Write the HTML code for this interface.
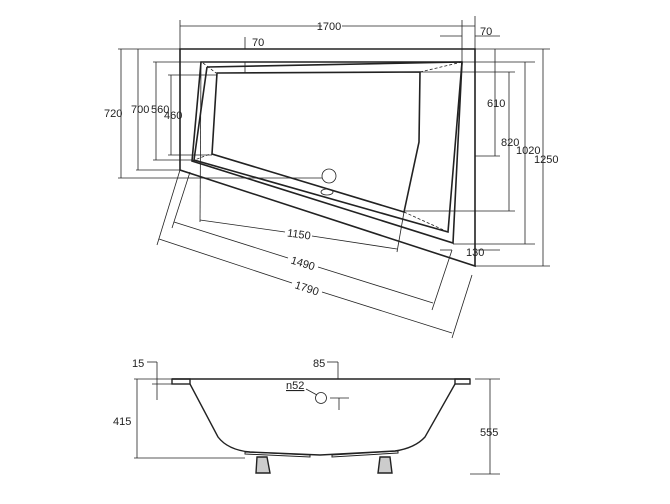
<!DOCTYPE html>
<html><head><meta charset="utf-8"><style>
html,body{margin:0;padding:0;background:#fff;}
svg{display:block;}
text{font-family:"Liberation Sans",sans-serif;font-size:11px;fill:#222;}
</style></head><body>
<svg width="670" height="504" viewBox="0 0 670 504" xmlns="http://www.w3.org/2000/svg">
<g fill="none" stroke="#222" stroke-width="1.6">
<polygon points="180,49 475,49 475,266 180,170"/>
<polygon points="201,62 462,62 453,243 192,161"/>
<polyline points="207,67 462,62"/>
<polyline points="207,67 194,160 448,232 462,62"/>
<polygon points="217,73 420,72 419,142 404,212 212,154"/>
</g>
<g fill="none" stroke="#222" stroke-width="0.8">
<g stroke-dasharray="3,2">
<line x1="420" y1="72" x2="462" y2="62"/>
<line x1="404" y1="212" x2="448" y2="232"/>
<line x1="192" y1="161" x2="210" y2="154"/>
<line x1="203" y1="63" x2="216" y2="73"/>
</g>
<circle cx="329" cy="176" r="7"/>
<ellipse cx="327" cy="192" rx="6" ry="3"/>
<line x1="180" y1="26" x2="322" y2="26"/><line x1="342" y1="26" x2="475" y2="26"/>
<line x1="180" y1="20" x2="180" y2="49"/><line x1="475" y1="16" x2="475" y2="49"/>
<line x1="462" y1="20" x2="462" y2="62"/>
<line x1="440" y1="36" x2="462" y2="36"/><line x1="475" y1="36" x2="500" y2="36"/>
<line x1="245" y1="37" x2="245" y2="49"/><line x1="245" y1="62" x2="245" y2="73"/>
<line x1="121" y1="49" x2="121" y2="178"/>
<line x1="138" y1="49" x2="138" y2="170"/>
<line x1="156" y1="62" x2="156" y2="160"/>
<line x1="171" y1="75" x2="171" y2="155"/>
<line x1="118" y1="49" x2="180" y2="49"/>
<line x1="153" y1="62" x2="201" y2="62"/>
<line x1="168" y1="75" x2="217" y2="75"/>
<line x1="168" y1="155" x2="212" y2="155"/>
<line x1="153" y1="160" x2="192" y2="160"/>
<line x1="136" y1="170" x2="180" y2="170"/>
<line x1="118" y1="178" x2="322" y2="178"/>
<line x1="495" y1="49" x2="495" y2="156"/>
<line x1="509" y1="72" x2="509" y2="211"/>
<line x1="525" y1="62" x2="525" y2="244"/>
<line x1="543" y1="49" x2="543" y2="266"/>
<line x1="475" y1="49" x2="550" y2="49"/>
<line x1="462" y1="62" x2="535" y2="62"/>
<line x1="420" y1="72" x2="515" y2="72"/>
<line x1="475" y1="156" x2="500" y2="156"/>
<line x1="404" y1="211" x2="515" y2="211"/>
<line x1="453" y1="244" x2="535" y2="244"/>
<line x1="475" y1="266" x2="550" y2="266"/>
<line x1="478" y1="250" x2="500" y2="250"/>
<line x1="440" y1="250" x2="452" y2="250"/>
<line x1="201" y1="63" x2="200" y2="222"/>
<line x1="404" y1="212" x2="397" y2="252"/>
<line x1="200" y1="220" x2="285" y2="232"/><line x1="312" y1="236" x2="397" y2="249"/>
<line x1="190" y1="172" x2="172" y2="228"/>
<line x1="452" y1="250" x2="432" y2="310"/>
<line x1="174" y1="222" x2="288" y2="258"/><line x1="318" y1="267" x2="433" y2="303"/>
<line x1="180" y1="170" x2="157" y2="245"/>
<line x1="472" y1="275" x2="452" y2="338"/>
<line x1="159" y1="239" x2="292" y2="283"/><line x1="322" y1="292" x2="452" y2="333"/>
</g>
<g>
<text x="329" y="30" text-anchor="middle">1700</text>
<text x="480" y="35">70</text>
<text x="252" y="46">70</text>
<text x="104" y="117">720</text>
<text x="131" y="113">700</text>
<text x="151" y="113">560</text>
<text x="164" y="119">460</text>
<text x="487" y="107">610</text>
<text x="501" y="146">820</text>
<text x="516" y="154">1020</text>
<text x="534" y="163">1250</text>
<text x="466" y="256">130</text>
<text x="299" y="238" text-anchor="middle" transform="rotate(8 299 234)">1150</text>
<text x="303" y="267" text-anchor="middle" transform="rotate(17 303 263)">1490</text>
<text x="307" y="292" text-anchor="middle" transform="rotate(18 307 288)">1790</text>
</g>
<g fill="none" stroke="#222" stroke-width="1.4">
<line x1="172" y1="379" x2="470" y2="379"/>
<rect x="172" y="379" width="18" height="5"/>
<rect x="455" y="379" width="15" height="5"/>
<path d="M190,384 L218,437 Q228,450 250,452 L320,455 L395,451 Q415,448 425,437 L455,384"/>
<path d="M245,452 L310,455 L310,457 L245,454 Z" stroke-width="1"/>
<path d="M332,455 L398,451 L398,453 L332,457 Z" stroke-width="1"/>
<path d="M257,457 L267,457 L270,473 L256,473 Z" fill="#ccc"/>
<path d="M380,457 L390,457 L392,473 L378,473 Z" fill="#ccc"/>
</g>
<g fill="none" stroke="#222" stroke-width="0.8">
<circle cx="321" cy="398" r="5.5"/>
<line x1="137" y1="379" x2="137" y2="458"/>
<line x1="134" y1="379" x2="172" y2="379"/>
<line x1="134" y1="458" x2="245" y2="458"/>
<line x1="147" y1="362" x2="157" y2="362"/><line x1="157" y1="362" x2="157" y2="400"/>
<line x1="152" y1="384" x2="172" y2="384"/>
<line x1="327" y1="362" x2="338" y2="362"/><line x1="338" y1="362" x2="338" y2="379"/>
<line x1="306" y1="389" x2="317" y2="395"/>
<line x1="330" y1="398" x2="349" y2="398"/><line x1="339" y1="398" x2="339" y2="410"/>
<line x1="490" y1="379" x2="490" y2="474"/>
<line x1="475" y1="379" x2="500" y2="379"/>
<line x1="470" y1="474" x2="500" y2="474"/>
</g>
<text x="132" y="367" font-size="12">15</text>
<text x="313" y="367" font-size="12">85</text>
<text x="286" y="389" font-size="10" text-decoration="underline">n52</text>
<text x="113" y="425" font-size="12">415</text>
<text x="480" y="436" font-size="12">555</text>
</svg>
</body></html>
